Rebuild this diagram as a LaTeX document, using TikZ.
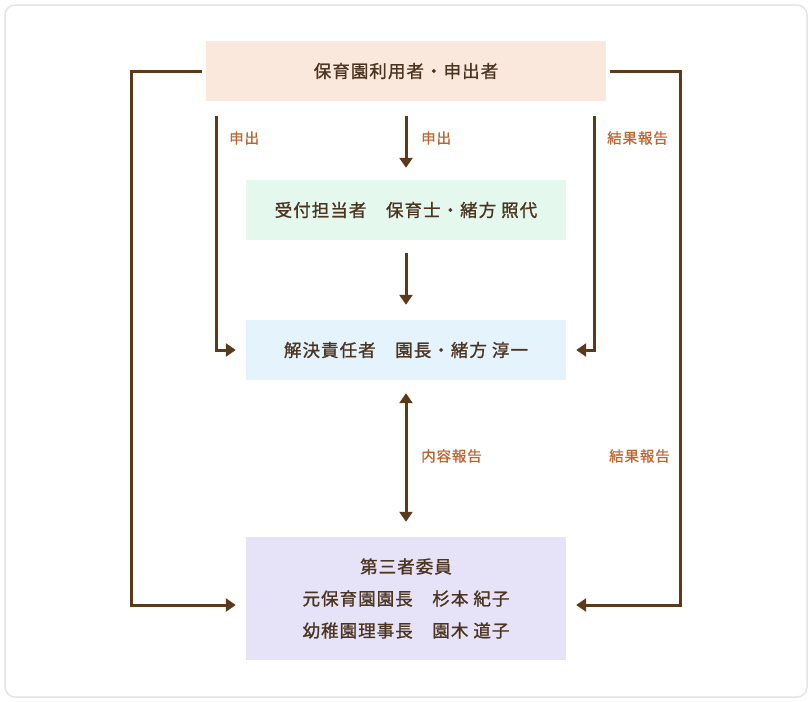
\documentclass[tikz,border=0pt]{standalone}
\usepackage{fontspec}
\usepackage{xcolor}
\usetikzlibrary{arrows.meta}
\usetikzlibrary{positioning}
\newfontfamily\jpfont[LetterSpace=6,FakeBold=1.2]{Noto Sans CJK JP}
\newfontfamily\jplabel[LetterSpace=6,FakeBold=0.8]{Noto Sans CJK JP}
\definecolor{userfill}{HTML}{FBE8DD}
\definecolor{receptfill}{HTML}{E5F8EE}
\definecolor{resolvefill}{HTML}{E5F4FC}
\definecolor{thirdfill}{HTML}{E6E3F8}
\definecolor{flowbrown}{HTML}{5B3A1C}
\definecolor{labelorange}{HTML}{C0632F}
\definecolor{boxtext}{HTML}{4B3420}
\definecolor{cardline}{HTML}{E4E4E4}

\begin{document}
\begin{tikzpicture}[
  x=1pt,y=-1pt,
  flowbox/.style={rectangle,inner sep=0pt,minimum width=320pt,minimum height=60pt,
    text=boxtext,font=\jpfont\fontsize{17.5}{32}\selectfont,align=center},
  flowline/.style={draw=flowbrown,line width=3pt,
    -{Triangle[length=10pt,width=13pt]}},
  labeltext/.style={text=labelorange,font=\jplabel\fontsize{14.5}{16}\selectfont,
    inner sep=0pt,anchor=west}
]
\useasboundingbox (0,0) rectangle (812,702);
\draw[cardline,line width=1.5pt,fill=white,rounded corners=10pt] (5,5) rectangle (807,697);

% boxes
\node[flowbox,fill=userfill,minimum width=400pt] (user) at (406,71) {保育園利用者・申出者};
\node[flowbox,fill=receptfill] (recept) at (406,210) {受付担当者　保育士・緒方 照代};
\node[flowbox,fill=resolvefill] (resolve) at (406,350) {解決責任者　園長・緒方 淳一};
\node[flowbox,fill=thirdfill,minimum height=123pt] (third) at (406,598.5)
  {第三者委員\\元保育園園長　杉本 紀子\\幼稚園理事長　園木 道子};

% helper points
\coordinate (lstart) at (216,116);
\coordinate (cstart) at (406,116);
\coordinate (rstart) at (594,116);

% outer loops
\draw[flowline] ([xshift=-4pt]user.west) -- (131,71) |- ([xshift=-10pt,yshift=-6.5pt]third.west);
\draw[flowline] ([xshift=4pt]user.east) -- (680,71) |- ([xshift=10pt,yshift=-6.5pt]third.east);

% inner arrows
\draw[flowline] (lstart) |- ([xshift=-10pt]resolve.west);
\draw[flowline] (rstart) |- ([xshift=10pt]resolve.east);
\draw[flowline] (cstart) -- ([yshift=12pt]recept.north);
\draw[flowline] ([yshift=-13pt]recept.south) -- ([yshift=15pt]resolve.north);
\draw[flowline,{Triangle[length=10pt,width=13pt]}-{Triangle[length=10pt,width=13pt]}]
  ([yshift=-13pt]resolve.south) -- ([yshift=15pt]third.north);

% labels
\node[labeltext] (lab1) at (229,138) {申出};
\node[labeltext] (lab2) at (421,138) {申出};
\node[labeltext] (lab3) at (607,138) {結果報告};
\node[labeltext] (lab4) at (421,456) {内容報告};
\node[labeltext] (lab5) at (609,456) {結果報告};
\end{tikzpicture}
\end{document}
